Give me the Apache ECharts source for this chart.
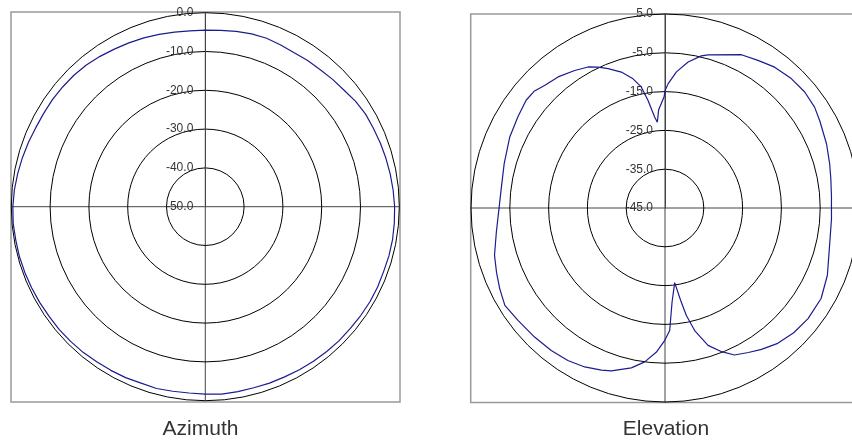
<!DOCTYPE html>
<html>
<head>
<meta charset="utf-8">
<script src="https://cdn.jsdelivr.net/npm/echarts@6/dist/echarts.min.js"></script>
<style>
html,body{margin:0;padding:0;background:#fff;}
#c{width:852px;height:443px;}
</style>
</head>
<body>
<div id="c"></div>
<script>
// ---- data ----
var azTitle = 'Azimuth';
var elTitle = 'Elevation';

var azTicks = [-50, -40, -30, -20, -10, 0];
var elTicks = [-45, -35, -25, -15, -5, 5];

var azAngles = [0,5,10,15,20,25,30,35,40,45,50,55,60,65,70,75,80,85,90,95,100,105,110,115,120,125,130,135,140,145,150,155,160,165,170,175,180,185,190,195,200,205,210,215,220,225,230,235,240,245,250,255,260,265,270,275,280,285,290,295,300,305,310,315,320,325,330,335,340,345,350,355,360];
var azValues = [-4.5,-4.4,-4.1,-3.9,-3.8,-4.0,-4.2,-4.0,-3.9,-3.6,-3.3,-2.7,-2.3,-2.2,-2.0,-1.8,-1.6,-1.4,-1.2,-1.1,-1.0,-1.0,-1.1,-1.0,-1.0,-1.1,-1.2,-1.2,-1.3,-1.4,-1.5,-1.6,-1.6,-1.7,-1.6,-1.5,-1.7,-1.8,-1.7,-1.5,-1.6,-1.4,-1.3,-1.2,-1.0,-0.9,-0.8,-0.8,-0.7,-0.6,-0.5,-0.4,-0.4,-0.3,-0.4,-0.6,-0.9,-1.2,-1.5,-1.8,-1.9,-1.9,-2.0,-2.1,-2.3,-2.7,-3.1,-3.4,-3.7,-4.0,-4.3,-4.5,-4.5];

var elAngles = [0,1.4,4.8,9,13.4,15.7,26.5,32.2,37.9,44.3,50.3,56,60.5,68.3,74.9,80,86.2,90,93.7,102.8,112.5,120.1,127.7,134.1,140.2,145.7,150,154.7,158.5,162.6,166.4,168.8,170.4,172.6,175.7,177.8,180.1,183.4,187.5,191.9,198.2,201.4,206.8,212.5,218.6,225.3,232.6,238.7,244,249,254.5,261.9,268.6,276.2,285.5,294.6,301.8,307.8,311.7,315.5,320.8,326.7,331.4,334.6,337.8,342.2,346.1,348.9,351,353.5,354.9,356.3,356.8,359.5,360];
var elValues = [-14.8,-13.0,-9.8,-6.9,-4.7,-4.0,-0.85,-0.03,1.0,1.6,1.8,1.5,0.8,-0.2,-1.05,-1.6,-2.0,-2.1,-2.0,-1.5,0.3,1.5,1.6,1.2,0.4,-0.9,-2.0,-3.1,-5.2,-7.9,-12.5,-16.8,-20.9,-25.6,-20.7,-13.4,-10.9,-7.8,-5.0,-2.9,-0.8,-0.1,0.9,1.6,2.0,2.3,2.7,3.3,2.4,1.5,0.6,-1.1,-2.1,-2.5,-2.0,-1.0,-0.4,0.3,0.2,-0.7,-1.4,-2.6,-3.6,-4.8,-6.2,-8.2,-10.7,-13.2,-16.9,-21.4,-22.8,-19.6,-19.2,-16.4,-14.8];

// ---- chart ----
var chart = echarts.init(document.getElementById('c'), null, {renderer: 'canvas'});
var FONT = '"Liberation Sans", Arial, sans-serif';

function angleAx(idx) {
  return {
    polarIndex: idx, type: 'value', min: 0, max: 360, interval: 90,
    startAngle: 90, clockwise: true,
    axisLine: {show: false}, axisTick: {show: false}, axisLabel: {show: false},
    splitLine: {show: true, lineStyle: {color: '#444', width: 1}}
  };
}
function radiusAx(idx, ticks) {
  return {
    polarIndex: idx, type: 'value',
    min: ticks[0], max: ticks[ticks.length - 1], interval: ticks[1] - ticks[0],
    axisLine: {show: true, lineStyle: {color: '#444', width: 1}},
    axisTick: {show: false},
    axisLabel: {
      show: true, margin: 12, color: '#333', fontSize: 12, fontFamily: FONT,
      formatter: function (v) { return v.toFixed(1); }
    },
    splitLine: {show: true, lineStyle: {color: '#000', width: 1}},
    z: 2
  };
}
function pairs(angles, values) {
  return angles.map(function (a, i) { return [values[i], a]; });
}

chart.setOption({
  animation: false,
  backgroundColor: '#fff',
  polar: [
    {center: [205.3, 206.7], radius: 194},
    {center: [665, 208], radius: 194}
  ],
  angleAxis: [angleAx(0), angleAx(1)],
  radiusAxis: [radiusAx(0, azTicks), radiusAx(1, elTicks)],
  series: [
    {type: 'line', coordinateSystem: 'polar', polarIndex: 0, showSymbol: false, smooth: false,
     lineStyle: {color: '#1c1c8f', width: 1.2}, data: pairs(azAngles, azValues), z: 5},
    {type: 'line', coordinateSystem: 'polar', polarIndex: 1, showSymbol: false, smooth: false,
     lineStyle: {color: '#1c1c8f', width: 1.2}, data: pairs(elAngles, elValues), z: 5}
  ],
  graphic: [
    {type: 'rect', shape: {x: 11, y: 12, width: 389, height: 390}, style: {fill: 'none', stroke: '#999', lineWidth: 1.5}, z: 0, silent: true},
    {type: 'rect', shape: {x: 470.7, y: 14, width: 400, height: 388.5}, style: {fill: 'none', stroke: '#999', lineWidth: 1.5}, z: 0, silent: true},
    {type: 'text', x: 200.5, y: 429, style: {text: azTitle, fill: '#333', font: '21px ' + FONT, textAlign: 'center', textVerticalAlign: 'middle'}},
    {type: 'text', x: 666, y: 429, style: {text: elTitle, fill: '#333', font: '21px ' + FONT, textAlign: 'center', textVerticalAlign: 'middle'}}
  ]
});
</script>
</body>
</html>
